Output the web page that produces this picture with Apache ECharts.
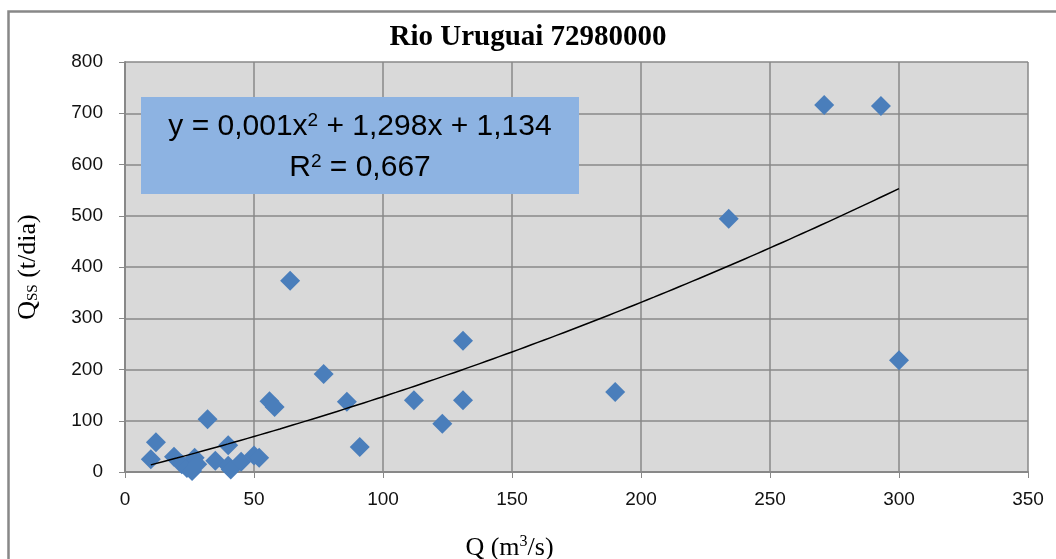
<!DOCTYPE html>
<html>
<head>
<meta charset="utf-8">
<script src="https://cdn.jsdelivr.net/npm/echarts@6/dist/echarts.min.js"></script>
<style>
  html, body { margin: 0; padding: 0; background: #fff; }
  #chart { width: 1056px; height: 559px; }
</style>
</head>
<body>
<div id="chart"></div>
<script>
// vazao (m3/s)
const qValues = [271, 293, 300, 234, 190, 131, 131, 123, 112, 91, 86, 77, 64, 56, 58, 32,
  12, 10, 19, 22, 24, 26, 27, 28, 35, 40, 40, 41, 45, 50, 52]
// descarga solida em suspensao (t/dia)
const qssValues = [716, 714, 218, 494, 156, 256, 140, 94, 140, 49, 137, 191, 373, 138, 127, 103,
  58, 25, 30, 15, 8, 2, 28, 15, 22, 52, 12, 5, 20, 32, 28]
// linha de tendencia polinomial (a, b, c), como desenhada
const trendCoef = [0.0019, 1.27, 1.0]
const trendRange = [10, 300]
const xTicks = [0, 50, 100, 150, 200, 250, 300, 350]
const yTicks = [0, 100, 200, 300, 400, 500, 600, 700, 800]

const scatterData = qValues.map((q, i) => [q, qssValues[i]])
const trendData = []
for (let x = trendRange[0]; x <= trendRange[1]; x += 5) {
  trendData.push([x, trendCoef[0] * x * x + trendCoef[1] * x + trendCoef[2]])
}

const myChart = echarts.init(document.getElementById('chart'))
const labelFont = '"Liberation Sans", Arial, sans-serif'
const serif = '"Liberation Serif", "Times New Roman", serif'

myChart.setOption({
  animation: false,
  title: {
    text: 'Rio Uruguai 72980000',
    left: 'center',
    top: 18,
    textStyle: { fontFamily: serif, fontWeight: 'bold', fontSize: 29, color: '#000' },
  },
  grid: {
    left: 125, right: 28, top: 62, bottom: 87,
    outerBoundsMode: 'none', containLabel: false,
    show: true, backgroundColor: '#d9d9d9', borderWidth: 0,
  },
  xAxis: {
    type: 'value',
    min: xTicks[0],
    max: xTicks[xTicks.length - 1],
    interval: 50,
    name: '{a|Q (m}{sup|3}{a|/s)}',
    nameLocation: 'middle',
    nameGap: 62,
    nameTextStyle: {
      padding: [0, 134, 0, 0],
      rich: {
        a: { fontFamily: serif, fontSize: 26, color: '#000' },
        sup: { fontFamily: serif, fontSize: 16, color: '#000', verticalAlign: 'top', padding: [0, 0, 12, 0] },
      },
    },
    axisLine: { show: true, lineStyle: { color: '#888', width: 2 } },
    axisTick: { show: true, length: 6, lineStyle: { color: '#888' } },
    axisLabel: { fontFamily: labelFont, fontSize: 19, color: '#111', margin: 18 },
    splitLine: { show: true, lineStyle: { color: '#888', width: 1.5 } },
  },
  yAxis: {
    type: 'value',
    min: yTicks[0],
    max: yTicks[yTicks.length - 1],
    interval: 100,
    name: '{a|Q}{sub|SS}{a| (t/dia)}',
    nameLocation: 'middle',
    nameRotate: 90,
    nameGap: 84,
    nameTextStyle: {
      rich: {
        a: { fontFamily: serif, fontSize: 26, color: '#000' },
        sub: { fontFamily: serif, fontSize: 15, color: '#000', verticalAlign: 'bottom', padding: [10, 0, 0, 0] },
      },
    },
    axisLine: { show: true, lineStyle: { color: '#888', width: 2 } },
    axisTick: { show: true, length: 6, lineStyle: { color: '#888' } },
    axisLabel: { fontFamily: labelFont, fontSize: 19, color: '#111', margin: 22 },
    splitLine: { show: true, lineStyle: { color: '#888', width: 1.5 } },
  },
  series: [
    {
      type: 'line',
      data: trendData,
      showSymbol: false,
      smooth: true,
      lineStyle: { color: '#000', width: 1.5 },
      z: 3,
    },
    {
      type: 'scatter',
      data: scatterData,
      symbol: 'diamond',
      symbolSize: 20,
      itemStyle: { color: '#4a7ebb', opacity: 1 },
      z: 2,
    },
  ],
  graphic: [
    {
      type: 'rect',
      left: 6,
      top: 9,
      shape: { width: 1060, height: 570 },
      style: { fill: 'none', stroke: '#888', lineWidth: 2.5 },
      silent: true,
    },
    {
      type: 'rect',
      left: 141,
      top: 97,
      shape: { width: 438, height: 97 },
      style: { fill: '#8db3e2' },
      z: 10,
    },
    {
      type: 'text',
      x: 360,
      y: 127,
      z: 11,
      style: {
        text: '{a|y = 0,001x}{s|2}{a| + 1,298x + 1,134}',
        align: 'center',
        verticalAlign: 'middle',
        rich: {
          a: { fontFamily: labelFont, fontSize: 30, color: '#000' },
          s: { fontFamily: labelFont, fontSize: 19, color: '#000', verticalAlign: 'top', padding: [0, 0, 13, 0] },
        },
      },
    },
    {
      type: 'text',
      x: 360,
      y: 168,
      z: 11,
      style: {
        text: '{a|R}{s|2}{a| = 0,667}',
        align: 'center',
        verticalAlign: 'middle',
        rich: {
          a: { fontFamily: labelFont, fontSize: 30, color: '#000' },
          s: { fontFamily: labelFont, fontSize: 19, color: '#000', verticalAlign: 'top', padding: [0, 0, 13, 0] },
        },
      },
    },
  ],
})
</script>
</body>
</html>
